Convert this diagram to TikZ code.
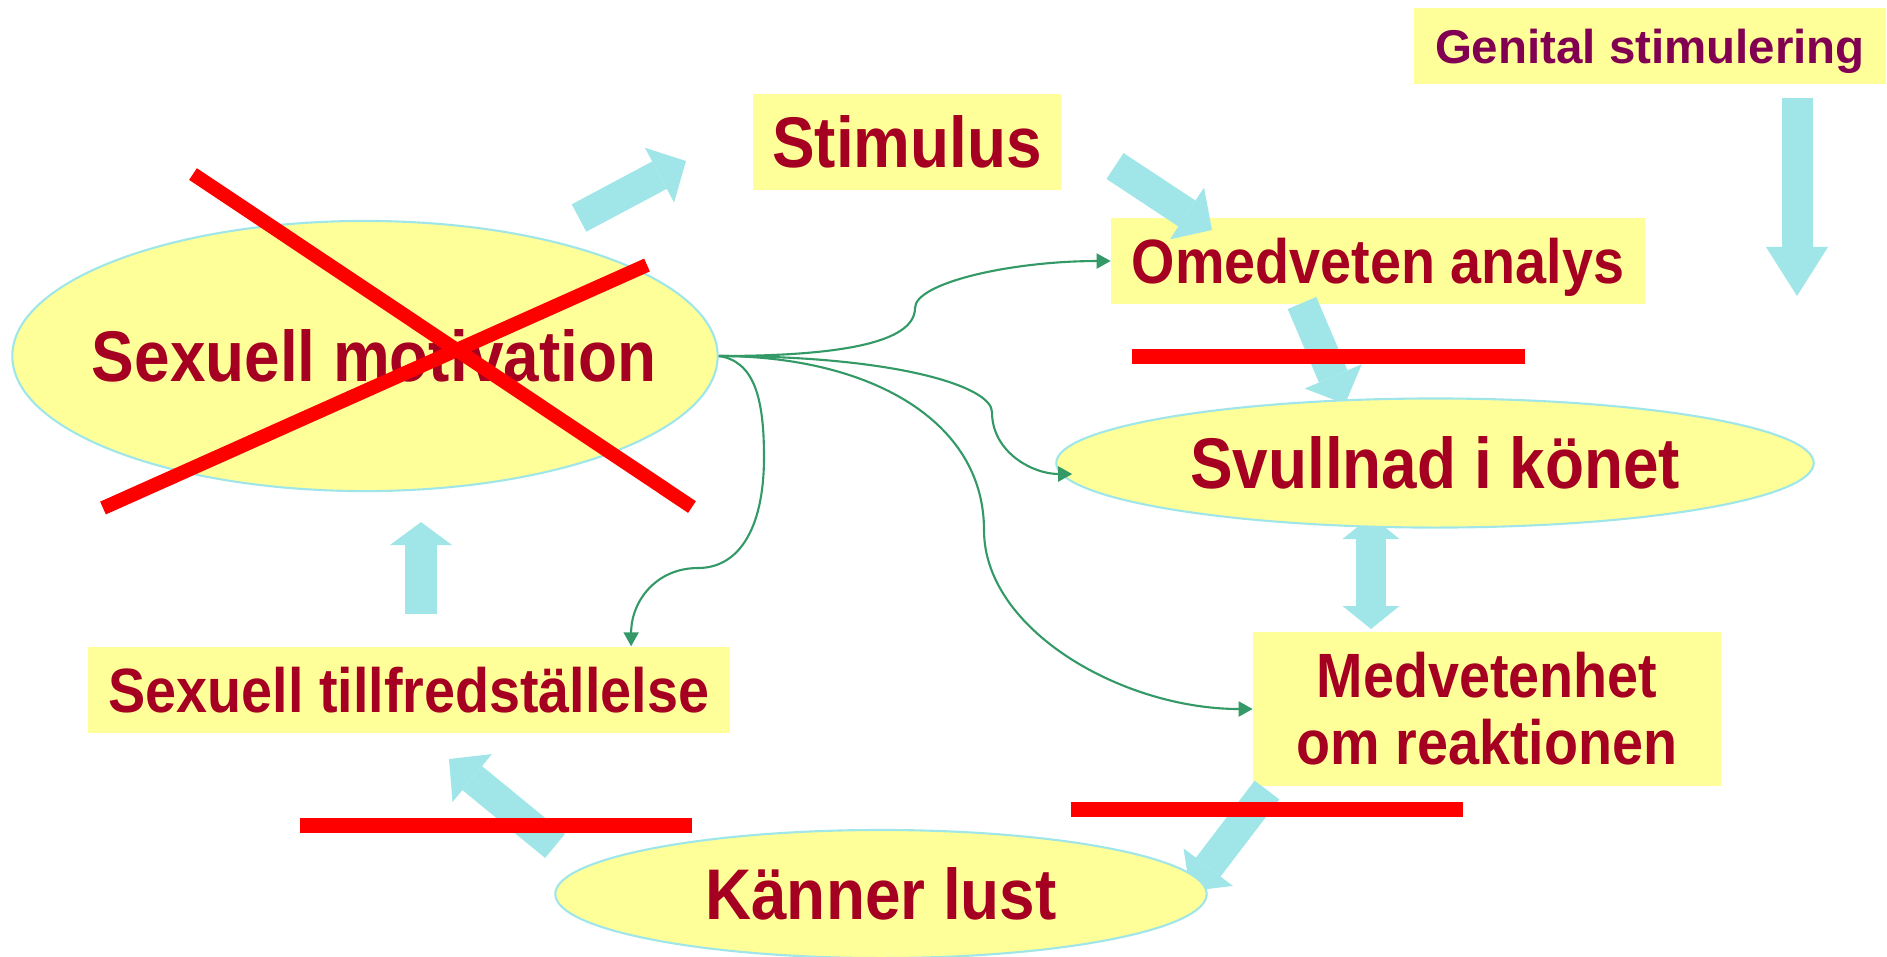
\documentclass[tikz,border=0pt]{standalone}
\usepackage{fontspec}
\setmainfont{Liberation Sans}
\newfontfamily\narrowfont[FakeStretch=0.89]{Liberation Sans}
\usetikzlibrary{arrows.meta,shapes.geometric}

\definecolor{boxyellow}{RGB}{255,255,153}
\definecolor{arrowcyan}{RGB}{160,230,232}
\definecolor{lblred}{RGB}{165,0,33}
\definecolor{lblpurple}{RGB}{130,0,82}
\definecolor{linkgreen}{RGB}{51,153,102}
\definecolor{crossred}{RGB}{255,0,0}

\tikzset{
  box/.style={fill=boxyellow, inner sep=0pt},
  oval/.style={ellipse, fill=boxyellow, draw=arrowcyan, line width=0.6pt, inner sep=0pt},
  bigtext/.style={text=lblred, font=\narrowfont\bfseries\fontsize{20.4}{22}\selectfont},
  midtext/.style={text=lblred, font=\narrowfont\bfseries\fontsize{17.8}{19}\selectfont},
  blockarrow/.style={draw=arrowcyan, line width=0.31cm,
    -{Triangle[length=#1,width=0.62cm,line width=0pt]}},
  blockarrow/.default=0.30cm,
  link/.style={draw=linkgreen, line width=0.6pt, -{Triangle[length=0.14cm,width=0.15cm]}},
  strike/.style={draw=crossred, line width=0.15cm},
}

\begin{document}
\begin{tikzpicture}[x=0.01cm, y=0.01cm]
    \useasboundingbox (0,0) rectangle (1887,-956);
    % boxes
    \node[box, minimum width=4.71cm, minimum height=0.76cm, text depth=0pt, text=lblpurple,
      font=\bfseries\fontsize{13.5}{15}\selectfont] (gs) at (1650,-46) {Genital stimulering};
    \node[box, bigtext, minimum width=3.08cm, minimum height=0.96cm] (stim) at (907,-142) {Stimulus};
    \node[box, midtext, minimum width=5.33cm, minimum height=0.85cm, text depth=0pt] (oa) at (1378,-261) {Omedveten analys};
    \node[box, midtext, minimum width=6.42cm, minimum height=0.86cm] (ts) at (409,-690) {Sexuell tillfredställelse};
    \node[box, midtext, minimum width=4.67cm, minimum height=1.54cm, align=center] (med) at (1487,-709) {Medvetenhet\\om reaktionen};
    % block arrow ends
    \coordinate (mot-out) at (579,-218);
    \coordinate (stim-in) at (686,-161);
    \coordinate (stim-out) at (1115,-166);
    \coordinate (oa-in) at (1212,-230);
    \coordinate (oa-out) at (1302,-303);
    \coordinate (svu-in) at (1345,-404);
    \coordinate (gs-out) at (1797,-98);
    \coordinate (gs-tip) at (1797,-296);
    \coordinate (svu-out) at (1371,-516);
    \coordinate (med-in) at (1371,-629);
    \coordinate (med-out) at (1267,-790);
    \coordinate (kl-in) at (1190,-891);
    \coordinate (kl-out) at (555,-846);
    \coordinate (ts-in) at (449,-759);
    \coordinate (ts-out) at (421,-614);
    \coordinate (mot-in) at (421,-522);
    % block arrows
    \draw[blockarrow] (mot-out) -- (stim-in);
    \draw[blockarrow] (stim-out) -- (oa-in);
    \draw[blockarrow] (oa-out) -- (svu-in);
    \draw[blockarrow=0.49cm] (gs-out) -- (gs-tip);
    \draw[blockarrow, line width=0.30cm,
      {Triangle[length=0.23cm,width=0.57cm,line width=0pt]}-{Triangle[length=0.23cm,width=0.57cm,line width=0pt]}] (svu-out) -- (med-in);
    \draw[blockarrow] (med-out) -- (kl-in);
    \draw[blockarrow] (kl-out) -- (ts-in);
    \draw[blockarrow=0.23cm] (ts-out) -- (mot-in);
    % ovals
    \node[oval, minimum width=7.05cm, minimum height=2.70cm,
      label={[bigtext, xshift=0.09cm]center:Sexuell motivation}] (mot) at (365,-356) {};
    \node[oval, minimum width=7.57cm, minimum height=1.29cm,
      label={[bigtext]center:Svullnad i könet}] (svu) at (1435,-463) {};
    \node[oval, minimum width=6.51cm, minimum height=1.28cm,
      label={[bigtext]center:Känner lust}] (kl) at (881,-894) {};
    % crossed out
    \draw[strike, line width=0.14cm] (193,-174) -- (692,-507);
    \draw[strike, line width=0.14cm] (103,-508) -- (647,-265);
    \draw[strike] (1132,-356) -- (1525,-356);
    \draw[strike] (1071,-809) -- (1463,-809);
    \draw[strike] (300,-825) -- (692,-825);
    % links
    \draw[link] (mot.east) .. controls +(120,0) and +(0,-35) .. (915,-308)
      .. controls +(0,25) and +(-100,0) .. (oa.west);
    \draw[link] (mot.east) .. controls +(180,0) and +(0,25) .. (992,-412)
      .. controls +(0,-40) and +(-40,0) .. ([shift={(17,-11)}]svu.west);
    \draw[link] (mot.east) .. controls +(150,0) and +(0,110) .. (984,-530)
      .. controls +(0,-100) and +(-130,0) .. (med.west);
    \draw[link] (mot.east) .. controls +(35,-5) and +(0,60) .. (764,-457)
      .. controls +(0,-73) and +(40,0) .. (698,-568)
      .. controls +(-42,0) and +(0,45) .. ([xshift=2.22cm]ts.north);
\end{tikzpicture}
\end{document}
